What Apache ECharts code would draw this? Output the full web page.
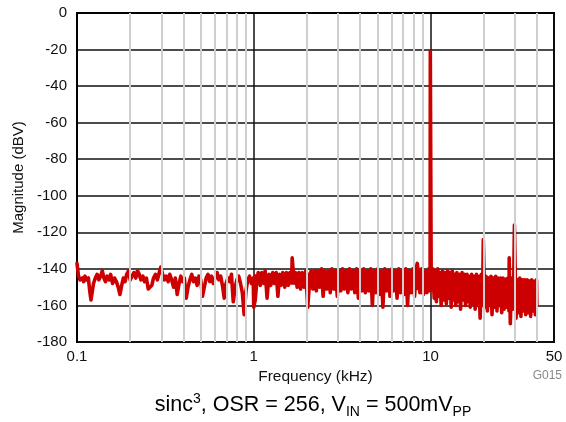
<!DOCTYPE html>
<html>
<head>
<meta charset="utf-8">
<script src="https://cdn.jsdelivr.net/npm/echarts@6/dist/echarts.min.js"></script>
<style>
html,body{margin:0;padding:0;background:#fff;}
#chart{width:566px;height:422px;}
</style>
</head>
<body>
<div id="chart"></div>
<script>
// Frequency (kHz) and magnitude (dBV)
const freqLow = [0.100,0.102,0.104,0.107,0.109,0.111,0.113,0.116,0.118,0.120,0.122,0.124,0.127,0.130,0.133,0.136,0.139,0.142,0.145,0.148,0.152,0.155,0.159,0.163,0.167,0.171,0.175,0.179,0.183,0.187,0.191,0.196,0.200,0.205,0.210,0.215,0.220,0.225,0.230,0.236,0.241,0.247,0.253,0.259,0.265,0.271,0.278,0.285,0.292,0.298,0.305,0.312,0.320,0.328,0.335,0.343,0.352,0.360,0.369,0.378,0.387,0.396,0.405,0.415,0.425,0.435,0.446,0.456,0.467,0.478,0.490,0.501,0.513,0.525,0.538,0.551,0.564,0.577,0.591,0.605,0.620,0.635,0.650,0.665,0.681,0.697,0.714,0.731,0.748,0.766,0.785,0.803,0.822,0.842,0.862,0.883,0.904,0.925,0.947,0.970,0.993];
const magLow = [-137,-144,-146,-145,-147,-144,-146,-145,-152,-157,-156,-148,-145,-143,-146,-144,-141,-145,-147,-144,-146,-143,-148,-145,-147,-150,-154,-149,-145,-147,-143,-141,-146,-144,-142,-145,-141,-143,-146,-144,-147,-145,-151,-152,-149,-145,-143,-146,-142,-139,-143,-146,-144,-147,-143,-146,-150,-145,-154,-148,-144,-147,-145,-156,-150,-146,-143,-147,-145,-149,-144,-146,-155,-150,-145,-143,-147,-144,-148,-145,-142,-146,-144,-149,-156,-148,-145,-147,-143,-158,-150,-146,-144,-148,-153,-165,-152,-146,-144,-148,-145];

const freqMid = [1.00,1.02,1.04,1.06,1.09,1.11,1.14,1.16,1.19,1.22,1.25,1.28,1.31,1.34,1.37,1.40,1.43,1.46,1.50,1.53,1.57,1.60,1.64,1.65,1.67,1.69,1.72,1.76,1.80,1.84,1.88,1.93,1.97,2.02,2.06,2.11,2.16,2.21,2.26,2.31,2.36,2.42,2.47,2.53,2.59,2.65,2.71,2.77,2.84,2.90,2.97,3.04,3.11,3.18,3.25,3.33,3.41,3.48,3.56,3.65,3.73,3.82,3.91,4.00,4.09,4.19,4.28,4.38,4.48,4.59,4.69,4.80,4.91,5.03,5.14,5.26,5.38,5.51,5.64,5.77,5.90,6.04,6.18,6.32,6.47,6.62,6.77,6.93,7.09,7.25,7.42,7.59,7.77,7.95,8.13,8.32,8.42,8.51,8.71,8.91,9.12,9.33,9.55,9.77,9.95];
const magMid = [-161,-157,-147,-142,-149,-142,-148,-141,-156,-143,-149,-142,-148,-142,-155,-143,-149,-142,-150,-142,-149,-142,-146,-134,-134,-147,-142,-150,-142,-151,-142,-150,-141,-161,-150,-141,-151,-141,-152,-141,-150,-140,-155,-141,-151,-141,-153,-140,-151,-141,-155,-141,-152,-140,-151,-141,-153,-140,-151,-141,-153,-140,-156,-141,-152,-140,-153,-141,-152,-140,-160,-141,-153,-140,-154,-141,-161,-140,-152,-141,-155,-140,-152,-141,-156,-140,-153,-141,-154,-140,-160,-141,-153,-140,-155,-139,-137,-141,-153,-140,-154,-141,-153,-140,-152];

const freqHigh = [9.98,10.0,10.02,10.1,10.3,10.5,10.6,10.8,11.0,11.2,11.3,11.5,11.7,11.9,12.1,12.3,12.5,12.7,12.9,13.1,13.3,13.5,13.7,13.9,14.1,14.4,14.6,14.8,15.1,15.3,15.6,15.8,16.1,16.3,16.6,16.8,17.1,17.4,17.6,17.9,18.2,18.5,18.8,19.1,19.4,19.7,19.9,20.0,20.1,20.3,20.6,21.0,21.3,21.6,22.0,22.3,22.7,23.0,23.4,23.8,24.1,24.5,24.9,25.3,25.7,26.1,26.5,26.9,27.4,27.8,27.9,28.0,28.3,28.7,29.2,29.6,29.85,30.0,30.15,30.5,31.0,31.5,32.0,32.5,33.0,33.5,34.1,34.6,35.2,35.7,36.3,36.9,37.4,38.0,38.6,39.2,39.8,40.0];
const magHigh = [-21,-20,-21,-150,-140,-156,-141,-158,-140,-155,-142,-160,-141,-157,-142,-159,-141,-156,-142,-161,-141,-157,-143,-160,-142,-158,-143,-162,-142,-157,-143,-160,-143,-158,-144,-161,-143,-159,-144,-162,-143,-160,-144,-167,-143,-160,-124,-123,-124,-161,-144,-163,-145,-160,-144,-165,-145,-161,-144,-163,-145,-160,-145,-164,-145,-162,-146,-161,-145,-163,-134,-133,-170,-145,-162,-146,-116,-115,-116,-167,-146,-164,-145,-166,-146,-163,-146,-165,-146,-164,-147,-166,-146,-163,-147,-165,-146,-160];

// Solid core of the dense noise floor (envelope)
const coreFreq   = [1.0, 2.0, 4.0, 10.0, 15.0, 20.0, 30.0, 39.8];
const coreTop    = [-143, -142, -141, -141, -143, -144, -145, -146];
const coreBottom = [-148, -149, -150, -152, -156, -158, -159, -160];

const yTicks = [0,-20,-40,-60,-80,-100,-120,-140,-160,-180];
const minorFreqs = [0.2,0.3,0.4,0.5,0.6,0.7,0.8,0.9,2,3,4,5,6,7,8,9,20,30,40];

const spectrum = [];
[[freqLow,magLow],[freqMid,magMid],[freqHigh,magHigh]].forEach(([f,m]) => {
  f.forEach((v,i) => spectrum.push([v, m[i]]));
});

const RED = '#cc0000';
const chart = echarts.init(document.getElementById('chart'), null, {renderer:'canvas'});
const FONT = 'Liberation Sans, Arial, sans-serif';
chart.setOption({
  animation: false,
  backgroundColor: '#fff',
  grid: {left:77, right:12, top:13, bottom:80, show:true, borderColor:'#000', borderWidth:2, backgroundColor:'transparent'},
  title: {
    text: '{b|sinc}{sup|3}{b|, OSR = 256, V}{sub|IN}{b| = 500mV}{sub|PP}',
    left: 308, top: 387, textAlign: 'center',
    textStyle: {
      fontWeight: 'normal',
      rich: {
        b: {fontFamily: FONT, fontSize: 21.5, fontWeight:'normal', color:'#000', lineHeight: 27, verticalAlign:'middle'},
        sup: {fontFamily: FONT, fontSize: 14, fontWeight:'normal', color:'#000', lineHeight: 27, verticalAlign:'top'},
        sub: {fontFamily: FONT, fontSize: 14, fontWeight:'normal', color:'#000', lineHeight: 27, verticalAlign:'bottom'}
      }
    }
  },
  graphic: [{
    type:'text', right: 4, top: 370,
    style: {text:'G015', fontFamily: 'Liberation Sans Narrow, ' + FONT, fontSize: 12, fill:'#888'}
  }],
  xAxis: {
    type: 'log', logBase: 10, min: 0.1, max: 50,
    name: 'Frequency (kHz)', nameLocation: 'middle', nameGap: 26,
    nameTextStyle: {fontFamily: FONT, fontSize: 15.5, color:'#111'},
    axisLine: {show:true, lineStyle:{color:'#000', width:2}},
    axisTick: {show:false},
    axisLabel: {fontFamily: FONT, fontSize: 15, color:'#111', margin: 7,
      showMinLabel:true, showMaxLabel:true,
      formatter: v => String(+(+v).toPrecision(3))},
    splitLine: {show:true, lineStyle:{color:'#111', width:1.5}},
    minorTick: {show:false}
  },
  yAxis: {
    type: 'value', min: -180, max: 0, interval: 20,
    name: 'Magnitude (dBV)', nameLocation: 'middle', nameGap: 50,
    nameTextStyle: {fontFamily: FONT, fontSize: 15, color:'#111'},
    axisLine: {show:true, lineStyle:{color:'#000', width:2}},
    axisTick: {show:false},
    axisLabel: {fontFamily: FONT, fontSize: 15, color:'#111', margin: 10,
      formatter: v => yTicks.includes(v) ? String(v) : ''},
    splitLine: {show:true, lineStyle:{color:'#111', width:1.5}}
  },
  series: [
    {
      type: 'line', data: [], z: 1, silent: true,
      markLine: {
        silent: true, symbol: 'none', animation:false,
        label: {show:false},
        lineStyle: {color:'#cfcfcf', width:2, type:'solid'},
        data: minorFreqs.map(f => ({xAxis: f}))
      }
    },
    {
      type: 'custom', z: 2, silent: true,
      data: [[coreFreq[0], coreTop[0]]],
      renderItem: (params, api) => {
        const pts = [];
        coreFreq.forEach((f,i) => pts.push(api.coord([f, coreTop[i]])));
        for (let i = coreFreq.length - 1; i >= 0; i--) pts.push(api.coord([coreFreq[i], coreBottom[i]]));
        return {type:'polygon', shape:{points: pts}, style:{fill: RED}};
      }
    },
    {
      type: 'line', data: spectrum, z: 3, showSymbol: false, symbol:'none',
      lineStyle: {color: RED, width:3.6, join:'round', cap:'round'}, itemStyle:{color: RED}
    }
  ]
});
</script>
</body>
</html>
